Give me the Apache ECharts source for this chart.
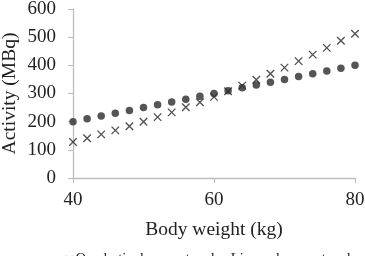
<!DOCTYPE html>
<html>
<head>
<meta charset="utf-8">
<script src="https://cdn.jsdelivr.net/npm/echarts@6/dist/echarts.min.js"></script>
<style>
html,body{margin:0;padding:0;background:#fff;}
#chart{width:365px;height:256px;}
</style>
</head>
<body>
<div id="chart"></div>
<script>
// body weight (kg)
const weights = [40,42,44,46,48,50,52,54,56,58,60,62,64,66,68,70,72,74,76,78,80];
// activity (MBq)
const quadratic = [128,141,155,169,184,200,216,233,251,269,288,308,328,349,370,392,415,438,462,487,512];
const linear = [200,210,220,230,240,250,260,270,280,290,300,310,320,330,340,350,360,370,380,390,400];
const xTicks = [40,60,80];
const yTicks = [0,100,200,300,400,500,600];

const serif = '"Liberation Serif","DejaVu Serif",serif';
const crossPath = 'path://M0,0L10,10M10,0L0,10';

let chart = echarts.init(document.getElementById('chart'));

let option = {
    animation:false,
    backgroundColor:'#fff',
    grid:{left:73,right:10,top:9,bottom:78,outerBoundsMode:'none',containLabel:false},
    legend:{
        top:247,
        left:58,
        width:340,
        itemGap:6,
        itemWidth:7,
        itemHeight:7,
        textStyle:{fontFamily:serif,fontSize:14.5,color:'#222',padding:[0,0,0,-2]},
        data:[
            {name:'Quadratic dose protocol',icon:crossPath,itemStyle:{color:'none',borderColor:'#222',borderWidth:1.2}},
            {name:'Linear dose protocol',icon:'circle'}
        ]
    },
    xAxis:{
        type:'value',
        min:xTicks[0],
        max:xTicks[xTicks.length-1],
        interval:20,
        name:'Body weight (kg)',
        nameLocation:'middle',
        nameGap:42,
        nameMoveOverlap:false,
        nameTextStyle:{fontFamily:serif,fontSize:19.5,color:'#222'},
        axisLine:{lineStyle:{color:'#bdbdbd',width:1.3}},
        axisTick:{show:true,length:5,lineStyle:{color:'#bdbdbd'}},
        axisLabel:{fontFamily:serif,fontSize:19,color:'#222',margin:13},
        splitLine:{show:false}
    },
    yAxis:{
        type:'value',
        min:yTicks[0],
        max:yTicks[yTicks.length-1],
        interval:100,
        name:'Activity (MBq)',
        nameLocation:'middle',
        nameGap:53,
        nameMoveOverlap:false,
        nameTextStyle:{fontFamily:serif,fontSize:19.5,color:'#222'},
        axisLine:{show:true,lineStyle:{color:'#bdbdbd',width:1.3}},
        axisTick:{show:true,length:5,lineStyle:{color:'#bdbdbd'}},
        axisLabel:{fontFamily:serif,fontSize:19,color:'#222',margin:17},
        splitLine:{show:false}
    },
    series:[
        {
            name:'Quadratic dose protocol',
            type:'scatter',
            symbol:crossPath,
            symbolSize:7.5,
            itemStyle:{color:'none',borderColor:'#222',borderWidth:1.3},
            data:weights.map((w,i)=>[w,quadratic[i]])
        },
        {
            name:'Linear dose protocol',
            type:'scatter',
            symbol:'circle',
            symbolSize:7.5,
            itemStyle:{color:'#2a2a2a'},
            data:weights.map((w,i)=>[w,linear[i]])
        }
    ]
};
chart.setOption(option);
</script>
</body>
</html>
